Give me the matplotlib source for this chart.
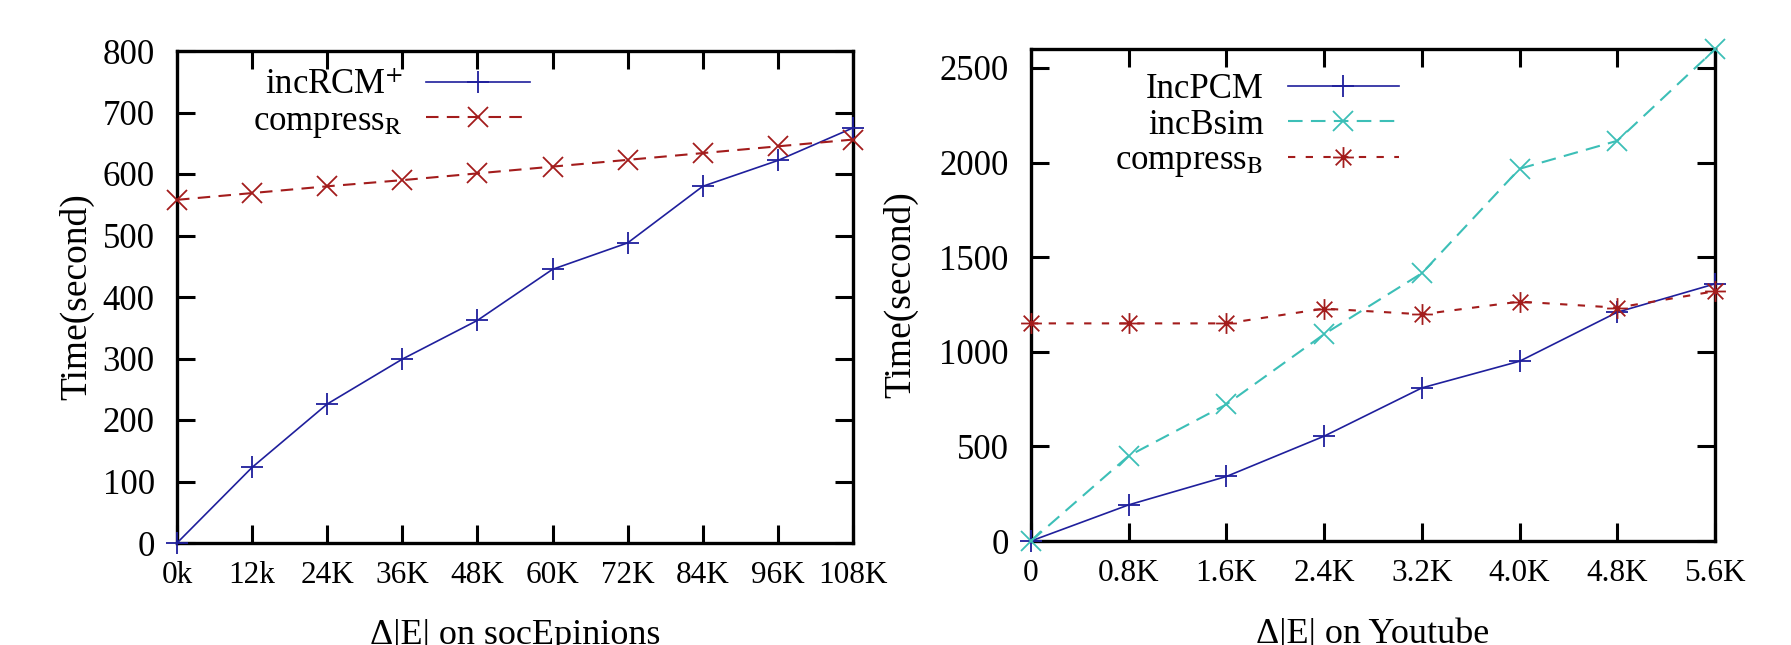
import matplotlib
matplotlib.use("Agg")
import matplotlib.pyplot as plt
from matplotlib.path import Path

# ---------------- data ----------------
x_left = [0, 12, 24, 36, 48, 60, 72, 84, 96, 108]
x_left_labels = ["0k", "12k", "24K", "36K", "48K", "60K", "72K", "84K", "96K", "108K"]
inc_rcm = [0, 123, 226, 299, 362, 445, 488, 580, 622, 675]
compress_r = [558, 569, 580, 590, 601, 612, 623, 634, 645, 656]

x_right = [0, 0.8, 1.6, 2.4, 3.2, 4.0, 4.8, 5.6]
x_right_labels = ["0", "0.8K", "1.6K", "2.4K", "3.2K", "4.0K", "4.8K", "5.6K"]
inc_pcm = [0, 191, 341, 554, 809, 950, 1209, 1359]
inc_bsim = [0, 450, 722, 1093, 1415, 1967, 2115, 2598]
compress_b = [1150, 1150, 1150, 1228, 1198, 1265, 1233, 1320]

# ---------------- style ----------------
plt.rcParams['font.family'] = ['Liberation Serif', 'DejaVu Serif']
plt.rcParams['mathtext.fontset'] = 'stix'

BLUE = '#1f1f9c'
RED = '#a31c1c'
CYAN = '#3cbfb7'

YTICK_FS = 25
XTICK_FS = 22.5
YLAB_FS = 27
XLAB_FS = 26
LEG_FS = 25

# asterisk marker: '+' and 'x' overlaid
star_path = Path(
    [(-1, 0), (1, 0), (0, -1), (0, 1), (-0.75, -0.75), (0.75, 0.75), (-0.75, 0.75), (0.75, -0.75)],
    [Path.MOVETO, Path.LINETO] * 4)

fig = plt.figure(figsize=(17.91, 6.45), dpi=100)
axL = fig.add_axes([177 / 1791, 1 - 543 / 645, 676 / 1791, 492 / 645])
axR = fig.add_axes([1031 / 1791, 1 - 541 / 645, 684 / 1791, 492 / 645])


def style_axes(ax):
    for s in ax.spines.values():
        s.set_linewidth(2.4)
    ax.tick_params(axis='both', which='major', direction='in', length=13, width=2.2,
                   top=True, right=True)
    ax.tick_params(axis='x', pad=13, labelsize=XTICK_FS)
    ax.tick_params(axis='y', pad=16, labelsize=YTICK_FS)


# ---- left ----
axL.plot(x_left, inc_rcm, color=BLUE, lw=1.2, marker='+', ms=16, mew=1.3,
         label='incRCM$^{+}$', clip_on=False, zorder=3)
axL.plot(x_left, compress_r, color=RED, lw=1.5, ls=(0, (6, 4)), marker='x', ms=14, mew=1.3,
         label='compress$_{\\mathrm{R}}$', clip_on=False, zorder=3)
axL.set_xlim(0, 108)
axL.set_ylim(0, 800)
axL.set_xticks(x_left)
axL.set_xticklabels(x_left_labels)
axL.set_yticks(range(0, 801, 100))
style_axes(axL)
axL.set_ylabel('Time(second)', fontsize=YLAB_FS)
axL.set_xlabel('Δ|E| on socEpinions', fontsize=XLAB_FS)
axL.yaxis.set_label_coords(-0.123, 0.5)
axL.xaxis.set_label_coords(0.5, -0.155)
legL = axL.legend(loc='upper right', bbox_to_anchor=(0.522, 0.963), frameon=False,
                  markerfirst=False, fontsize=LEG_FS, handlelength=3.0, handletextpad=0.65,
                  labelspacing=0.07, borderpad=0, borderaxespad=0)

# ---- right ----
axR.plot(x_right, inc_pcm, color=BLUE, lw=1.2, marker='+', ms=16, mew=1.3,
         label='IncPCM', clip_on=False, zorder=3)
axR.plot(x_right, inc_bsim, color=CYAN, lw=1.5, ls=(0, (7, 4)), marker='x', ms=15, mew=1.3,
         label='incBsim', clip_on=False, zorder=3)
axR.plot(x_right, compress_b, color=RED, lw=1.5, ls=(0, (3.5, 5)), marker=star_path, ms=15, mew=1.3,
         label='compress$_{\\mathrm{B}}$', clip_on=False, zorder=3)
axR.set_xlim(0, 5.6)
axR.set_ylim(0, 2600)
axR.set_xticks(x_right)
axR.set_xticklabels(x_right_labels)
axR.set_yticks(range(0, 2501, 500))
style_axes(axR)
axR.set_ylabel('Time(second)', fontsize=YLAB_FS)
axR.set_xlabel('Δ|E| on Youtube', fontsize=XLAB_FS)
axR.yaxis.set_label_coords(-0.165, 0.5)
axR.xaxis.set_label_coords(0.5, -0.155)
legR = axR.legend(loc='upper right', bbox_to_anchor=(0.538, 0.951), frameon=False,
                  markerfirst=False, fontsize=LEG_FS, handlelength=3.2, handletextpad=0.7,
                  labelspacing=0.07, borderpad=0, borderaxespad=0)

fig.savefig('out.png', dpi=100)
